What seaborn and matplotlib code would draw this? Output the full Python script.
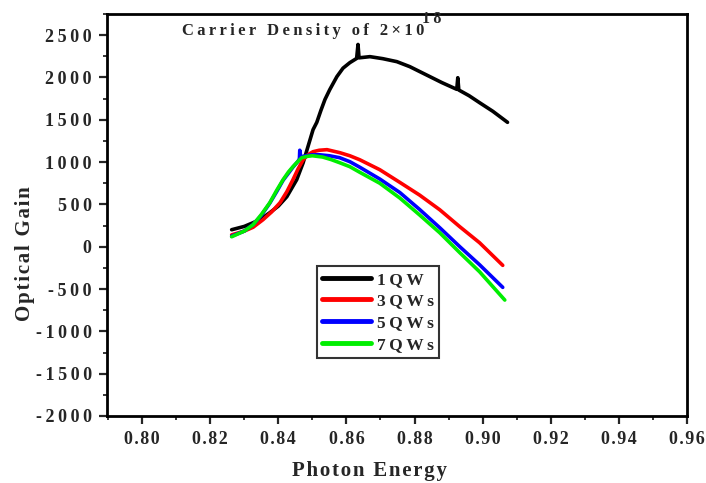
import numpy as np
import pandas as pd
import matplotlib
matplotlib.use("Agg")
import matplotlib.pyplot as plt
import seaborn as sns
from matplotlib.ticker import MultipleLocator, FuncFormatter

# ---- data ----
x_1qw = [0.8263, 0.8300, 0.8326, 0.8350, 0.8375, 0.8400, 0.8425, 0.8454, 0.8473, 0.8487,
         0.8502, 0.8513, 0.8525, 0.8537, 0.8551, 0.8572, 0.8590, 0.8610, 0.8630, 0.8634,
         0.8637, 0.8669, 0.8707, 0.8748, 0.8786, 0.8845, 0.8880, 0.8924, 0.8927, 0.8930,
         0.8960, 0.8991, 0.9030, 0.9073]
y_1qw = [201, 240, 284, 330, 402, 480, 591, 792, 993, 1182,
         1383, 1470, 1610, 1740, 1856, 2010, 2110, 2175, 2225, 2390,
         2232, 2246, 2222, 2187, 2128, 2010, 1940, 1860, 1997, 1852,
         1785, 1702, 1600, 1470]

x_3qw = [0.8263, 0.8300, 0.8326, 0.8355, 0.8380, 0.8405, 0.8425, 0.8443, 0.8458, 0.8473,
         0.8488, 0.8502, 0.8520, 0.8543, 0.8581, 0.8610, 0.8639, 0.8698, 0.8757, 0.8815,
         0.8874, 0.8933, 0.8991, 0.9059]
y_3qw = [140, 185, 230, 319, 410, 520, 650, 792, 920, 1028,
         1090, 1123, 1140, 1147, 1111, 1075, 1028, 910, 760, 610,
         437, 236, 47, -220]

x_5qw = [0.8263, 0.8300, 0.8326, 0.8350, 0.8375, 0.8395, 0.8414, 0.8430, 0.8443, 0.8458,
         0.8462, 0.8463, 0.8466, 0.8480, 0.8500, 0.8520, 0.8550, 0.8580, 0.8610, 0.8639,
         0.8698, 0.8757, 0.8815, 0.8874, 0.8933, 0.8991, 0.9059]
y_5qw = [125, 185, 262, 370, 515, 650, 785, 870, 940, 1010,
         1040, 1140, 1060, 1075, 1085, 1087, 1075, 1052, 1005, 940,
         800, 640, 440, 225, 0, -213, -480]

x_7qw = [0.8263, 0.8300, 0.8326, 0.8350, 0.8375, 0.8395, 0.8414, 0.8430, 0.8443, 0.8458,
         0.8469, 0.8485, 0.8500, 0.8530, 0.8555, 0.8580, 0.8610, 0.8639, 0.8698, 0.8757,
         0.8815, 0.8874, 0.8933, 0.8991, 0.9065]
y_7qw = [118, 185, 260, 380, 520, 665, 792, 885, 946, 1010,
         1052, 1068, 1075, 1060, 1030, 993, 946, 880, 750, 575,
         375, 165, -71, -296, -630]

labels = ["1QW", "3QWs", "5QWs", "7QWs"]
colors = ["#000000", "#ff0000", "#0000ff", "#00ee00"]
title_main = "Carrier Density of 2×10"
title_exp = "18"

THIN = "\u2009"
HAIR = "\u200a"


def spaced(s, ch=THIN):
    return ch.join(s)


frames = []
for lab, xs, ys in zip(labels, [x_1qw, x_3qw, x_5qw, x_7qw], [y_1qw, y_3qw, y_5qw, y_7qw]):
    frames.append(pd.DataFrame({"Photon Energy": xs, "Optical Gain": ys, "series": lab}))
df = pd.concat(frames, ignore_index=True)

sns.set_style("ticks")
plt.rcParams["font.family"] = ["Liberation Serif", "DejaVu Serif"]
plt.rcParams["font.weight"] = "bold"
plt.rcParams["axes.unicode_minus"] = False

fig = plt.figure(figsize=(7.06, 4.83), dpi=100)
ax = fig.add_axes([107/706, 1-416/483, 580/706, 402/483])

sns.lineplot(data=df, x="Photon Energy", y="Optical Gain", hue="series",
             palette=dict(zip(labels, colors)), hue_order=labels,
             estimator=None, sort=False, linewidth=2.6, ax=ax)

ax.set_xlim(0.7897, 0.96)
ax.set_ylim(-2000, 2750)
ax.xaxis.set_major_locator(MultipleLocator(0.02))
ax.xaxis.set_minor_locator(MultipleLocator(0.01))
ax.yaxis.set_major_locator(MultipleLocator(500))
ax.yaxis.set_minor_locator(MultipleLocator(250))
ax.xaxis.set_major_formatter(FuncFormatter(lambda v, p: spaced(f"{v:.2f}", HAIR)))
ax.yaxis.set_major_formatter(FuncFormatter(lambda v, p: spaced(f"{v:.0f}")))

for s in ax.spines.values():
    s.set_linewidth(2.0)
    s.set_color("black")
ax.tick_params(which="major", direction="out", length=6, width=1.6, labelsize=13, pad=5)
ax.tick_params(which="minor", direction="out", length=3, width=1.3)
ax.tick_params(top=False, right=False)
for t in ax.get_xticklabels() + ax.get_yticklabels():
    t.set_fontweight("bold")

ax.set_xlabel(spaced("Photon Energy", HAIR), fontsize=15, fontweight="bold")
ax.set_ylabel(spaced("Optical Gain", HAIR), fontsize=15, fontweight="bold")
ax.xaxis.set_label_coords(0.453, -0.113)
ax.yaxis.set_label_coords(-0.124, 0.405)

ax.text(0.8117, 2555, spaced(title_main), fontsize=12, fontweight="bold",
        ha="left", va="center")
ax.text(0.8822, 2690, spaced(title_exp), fontsize=11.5, fontweight="bold",
        ha="left", va="center")

handles, _ = ax.get_legend_handles_labels()
leg = ax.legend(handles, [spaced(l) for l in labels], loc="upper left",
                bbox_to_anchor=(0.362, 0.372), frameon=True,
                fancybox=False, edgecolor="black", fontsize=12.5, handlelength=2.8,
                labelspacing=0.32, borderpad=0.3, handletextpad=0.35, borderaxespad=0)
leg.get_frame().set_linewidth(1.5)
for line in leg.get_lines():
    line.set_linewidth(3.5)
for t in leg.get_texts():
    t.set_fontweight("bold")

fig.savefig("out.png", dpi=100)
